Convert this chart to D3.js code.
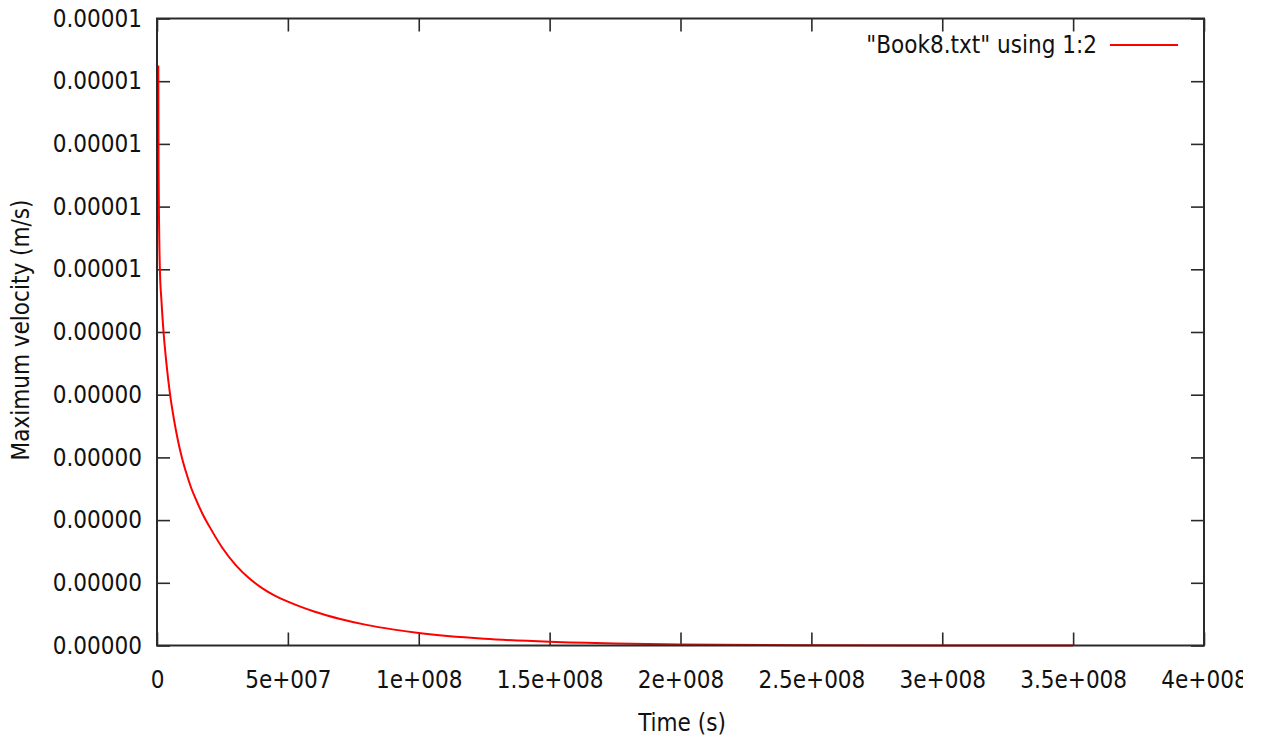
<!DOCTYPE html>
<html>
<head>
<meta charset="utf-8">
<script src="https://cdn.jsdelivr.net/npm/d3@7"></script>
<style>
  html, body { margin: 0; padding: 0; background: #fff; }
  svg { display: block; }
  text { font-family: "DejaVu Sans Condensed", "DejaVu Sans", sans-serif; fill: #111; }
</style>
</head>
<body>
<svg id="chart" width="1263" height="740"></svg>
<script>
// ---- data ----
const timeValues = [0.5e6, 0.6e6, 0.8e6, 1.1e6, 1.7e6, 2.5e6, 3.6e6, 5.0e6, 6.5e6, 8.0e6,
  9.5e6, 11.2e6, 13e6, 15.2e6, 17.5e6, 20e6, 25e6, 30e6, 35e6, 40e6, 45e6, 50e6, 55e6,
  60e6, 70e6, 80e6, 90e6, 100e6, 125e6, 150e6, 175e6, 200e6, 250e6, 300e6, 350e6];
const velocityValues = [9.25e-6, 7.6e-6, 6.7e-6, 6.0e-6, 5.5e-6, 5.0e-6, 4.5e-6, 4.0e-6, 3.6e-6, 3.27e-6,
  3.0e-6, 2.75e-6, 2.52e-6, 2.30e-6, 2.09e-6, 1.90e-6, 1.556e-6, 1.287e-6, 1.08e-6, 0.92e-6, 0.796e-6,
  0.699e-6, 0.616e-6, 0.543e-6, 0.423e-6, 0.329e-6, 0.257e-6, 0.20e-6, 0.108e-6, 0.0587e-6, 0.0314e-6,
  0.0168e-6, 0.0048e-6, 0.0014e-6, 0.0004e-6];
const xTickValues = [0, 5e7, 1e8, 1.5e8, 2e8, 2.5e8, 3e8, 3.5e8, 4e8];
const xTickLabels = ["0", "5e+007", "1e+008", "1.5e+008", "2e+008", "2.5e+008", "3e+008", "3.5e+008", "4e+008"];
const yTickValues = [0, 1e-6, 2e-6, 3e-6, 4e-6, 5e-6, 6e-6, 7e-6, 8e-6, 9e-6, 1e-5];
const yTickLabels = ["0.00000", "0.00000", "0.00000", "0.00000", "0.00000", "0.00000",
  "0.00001", "0.00001", "0.00001", "0.00001", "0.00001"];
const seriesName = "\"Book8.txt\" using 1:2";
const xTitle = "Time (s)";
const yTitle = "Maximum velocity (m/s)";

// ---- layout ----
const svg = d3.select("#chart");
const plotLeft = 157, plotRight = 1204, plotTop = 18.5, plotBottom = 645.5;
const x = d3.scaleLinear().domain([0, 4e8]).range([plotLeft, plotRight]);
const y = d3.scaleLinear().domain([0, 1e-5]).range([plotBottom, plotTop]);
const axisColor = "#2a2a2a";
const tickLen = 13;
const fontSize = 24;

svg.append("clipPath").attr("id", "pageclip")
  .append("rect").attr("x", 0).attr("y", 0).attr("width", 1243).attr("height", 740);
const g = svg.append("g").attr("clip-path", "url(#pageclip)");

// axes via d3 (bottom, top, left, right), ticks pointing inward
const xb = d3.axisBottom(x).tickValues(xTickValues).tickSizeInner(-tickLen).tickSizeOuter(0)
  .tickFormat((d, i) => xTickLabels[i]).tickPadding(25);
const xt = d3.axisTop(x).tickValues(xTickValues).tickSizeInner(-tickLen).tickSizeOuter(0).tickFormat("");
const yl = d3.axisLeft(y).tickValues(yTickValues).tickSizeInner(-tickLen).tickSizeOuter(0)
  .tickFormat((d, i) => yTickLabels[i]).tickPadding(15);
const yr = d3.axisRight(y).tickValues(yTickValues).tickSizeInner(-tickLen).tickSizeOuter(0).tickFormat("");

function style(sel) {
  sel.select(".domain").remove();
  sel.selectAll(".tick line").attr("stroke", axisColor).attr("stroke-width", 1.6);
  sel.selectAll(".tick text").attr("font-size", fontSize).attr("font-family", null).attr("fill", "#111");
}
g.append("g").attr("transform", `translate(0,${plotBottom})`).call(xb).call(style);
g.append("g").attr("transform", `translate(0,${plotTop})`).call(xt).call(style);
g.append("g").attr("transform", `translate(${plotLeft},0)`).call(yl).call(style);
g.append("g").attr("transform", `translate(${plotRight},0)`).call(yr).call(style);

// curve
const pts = timeValues.map((t, i) => [t, velocityValues[i]]);
const line = d3.line().x(d => x(d[0])).y(d => y(d[1])).curve(d3.curveMonotoneX);
g.append("path").datum(pts).attr("d", line)
  .attr("fill", "none").attr("stroke", "#ff0000").attr("stroke-width", 2);

// border
g.append("rect").attr("x", plotLeft).attr("y", plotTop).attr("width", plotRight - plotLeft).attr("height", plotBottom - plotTop)
  .attr("fill", "none").attr("stroke", axisColor).attr("stroke-width", 2);

// titles
g.append("text").attr("x", 682).attr("y", 731).attr("text-anchor", "middle")
  .attr("font-size", fontSize).text(xTitle);
g.append("text").attr("transform", "translate(29,330) rotate(-90)").attr("text-anchor", "middle")
  .attr("font-size", fontSize).text(yTitle);

// legend
g.append("text").attr("x", 1097).attr("y", 53).attr("text-anchor", "end")
  .attr("font-size", fontSize).text(seriesName);
g.append("line").attr("x1", 1110).attr("x2", 1178).attr("y1", 45).attr("y2", 45)
  .attr("stroke", "#ff0000").attr("stroke-width", 2);
</script>
</body>
</html>
